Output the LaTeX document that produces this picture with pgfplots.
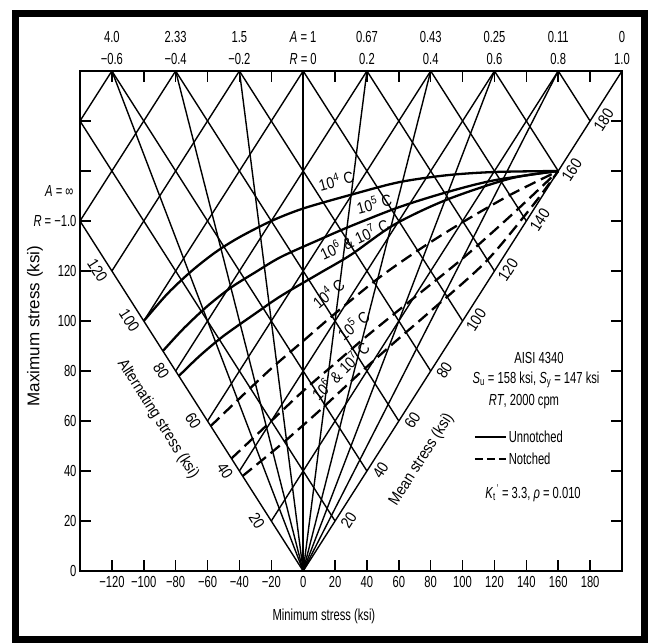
\documentclass[border=0pt]{standalone}
\usepackage{pgfplots}
\pgfplotsset{compat=1.18}
\usepackage{fontspec}
\setmainfont{Liberation Sans}[FakeStretch=0.7]
\newfontfamily\diagf{Liberation Sans}[FakeStretch=0.87]
\newfontfamily\vertf{Liberation Sans}
\newcommand\f{\fontsize{16}{17}\selectfont}
\newcommand\fd{\diagf\fontsize{16}{17}\selectfont}
\pgfplotsset{gl/.style={black, line width=1.4pt, forget plot},
  cv/.style={black, line width=2.3pt, smooth, forget plot},
  cvd/.style={black, line width=2.3pt, smooth, forget plot, dash pattern=on 12pt off 6pt}}
\begin{document}
\begin{tikzpicture}[x=1pt,y=1pt]
\useasboundingbox (0,0) rectangle (648,643);
\fill[white] (0,0) rectangle (648,643);
\draw[line width=7pt] (15.5,3.5) rectangle (644.5,629.5);
\begin{axis}[
 at={(80pt,72pt)}, anchor=south west, scale only axis,
 width=542pt, height=500pt,
 xmin=-140, xmax=200, ymin=0, ymax=200,
 clip=false,
 axis line style={line width=1.5pt},
 every tick/.style={black, line width=1.5pt},
 major tick length=11pt,
 tick align=inside,
 xtick={-120,-100,...,180},
 xticklabels={−120,−100,−80,−60,−40,−20,0,20,40,60,80,100,120,140,160,180},
 ytick={0,20,...,180},
 yticklabels={0,20,40,60,80,100,120,{\textit{R} = −1.0},{},{}},
 tick label style={font=\f},
 xticklabel style={yshift=-2pt},
 xlabel={Minimum stress (ksi)},
 xlabel style={font=\f, at={(axis description cs:0.45,-0.09)}, anchor=center},
 ylabel={Maximum stress (ksi)},
 ylabel style={font=\vertf\fontsize{17}{18}\selectfont, at={(axis description cs:-0.083,0.49)}, anchor=center},
 legend style={at={(axis cs:107,57)}, anchor=north west, draw=none, fill=none,
   font=\f, inner sep=0pt, row sep=5pt, cells={anchor=west}},
 legend image code/.code={\draw[#1, line width=1.8pt] (0pt,0pt) -- (31pt,0pt);},
]
% rays of constant R
\addplot[gl] coordinates {(0,0) (-140,140)};
\addplot[gl] coordinates {(0,0) (-120,200)};
\addplot[gl] coordinates {(0,0) (-80,200)};
\addplot[gl] coordinates {(0,0) (-40,200)};
\addplot[gl] coordinates {(0,0) (0,200)};
\addplot[gl] coordinates {(0,0) (40,200)};
\addplot[gl] coordinates {(0,0) (80,200)};
\addplot[gl] coordinates {(0,0) (120,200)};
\addplot[gl] coordinates {(0,0) (160,200)};
\addplot[gl] coordinates {(0,0) (200,200)};
% constant mean stress
\addplot[gl] coordinates {(20,20) (-140,180)};
\addplot[gl] coordinates {(40,40) (-120,200)};
\addplot[gl] coordinates {(60,60) (-80,200)};
\addplot[gl] coordinates {(80,80) (-40,200)};
\addplot[gl] coordinates {(100,100) (0,200)};
\addplot[gl] coordinates {(120,120) (40,200)};
\addplot[gl] coordinates {(140,140) (80,200)};
\addplot[gl] coordinates {(160,160) (120,200)};
\addplot[gl] coordinates {(180,180) (160,200)};
% constant alternating stress
\addplot[gl] coordinates {(-20,20) (160,200)};
\addplot[gl] coordinates {(-40,40) (120,200)};
\addplot[gl] coordinates {(-60,60) (80,200)};
\addplot[gl] coordinates {(-80,80) (40,200)};
\addplot[gl] coordinates {(-100,100) (0,200)};
\addplot[gl] coordinates {(-120,120) (-40,200)};
\addplot[gl] coordinates {(-140,140) (-80,200)};
\addplot[gl] coordinates {(-140,180) (-120,200)};
% unnotched
\addplot[cv] coordinates {(-100,100) (-85,111) (-70,120) (-55,127.5) (-40,133.5) (-20,140) (0,145) (30,150.5) (60,155.5) (90,158.3) (120,159.6) (160,160)};
\addplot[cv] coordinates {(-88,88) (-75,97) (-60,106) (-45,113.5) (-30,119.5) (-14,125.6) (10,132.5) (30,138) (60,145.5) (90,151.5) (120,156.3) (160,160)};
\addplot[cv] coordinates {(-78,78) (-65,86) (-50,94) (-30,103) (-14,110) (10,119) (30,126.5) (57,138.5) (90,148.5) (130,157) (160,160)};
% notched
\addplot[cvd] coordinates {(-58,58) (-40,69) (-20,81) (0,92) (20,103) (48,117.5) (75,129.5) (100,139.5) (130,150.5) (160,160)};
\addplot[cvd] coordinates {(-45,45) (-25,57) (0,72) (20,83) (40,94) (69,109) (100,125) (130,142) (160,160)};
\addplot[cvd] coordinates {(-38,38) (-15,50) (10,64) (37,80) (60,93) (80,104) (115,124) (145,147) (160,160)};
\addlegendimage{black, solid}
\addlegendentry{Unnotched}
\addlegendimage{black, dash pattern=on 8pt off 4pt}
\addlegendentry{Notched}
% top labels
\foreach \xx/\aa/\rr in {-120/4.0/−0.6, -80/2.33/−0.4, -40/1.5/−0.2, 0/{\textit{A} = 1}/{\textit{R} = 0}, 40/0.67/0.2, 80/0.43/0.4, 120/0.25/0.6, 160/0.11/0.8, 200/0/1.0}{
  \edef\tmp{\noexpand\node[font=\noexpand\f] at (axis cs:\xx,200) [yshift=12pt] {\unexpanded\expandafter{\rr}};
    \noexpand\node[font=\noexpand\f] at (axis cs:\xx,200) [yshift=34pt] {\unexpanded\expandafter{\aa}};}
  \tmp
}
% mean stress labels
\foreach \m in {20,40,...,180}{
  \edef\tmp{\noexpand\node[font=\noexpand\fd, rotate=57.5] at (axis cs:\m,\m) [xshift=8pt, yshift=-11pt] {\m};}
  \tmp
}
% alternating stress labels
\foreach \m in {20,40,...,120}{
  \edef\tmp{\noexpand\node[font=\noexpand\fd, rotate=-57.5] at (axis cs:-\m,\m) [xshift=-8pt, yshift=-12pt] {\m};}
  \tmp
}
\end{axis}
% axis labels along the diagonals
\node[font=\fd, rotate=-57.5, anchor=west] at (119,285) {Alternating stress (ksi)};
\node[font=\fd, rotate=57.5, anchor=east] at (452,231) {Mean stress (ksi)};
\node[font=\f, anchor=east] at (77,452) {\textit{A} = ∞};
% curve labels
\node[font=\fd, rotate=15] at (336,463) {10\textsuperscript{4} C};
\node[font=\fd, rotate=15] at (374,440) {10\textsuperscript{5} C};
\node[font=\fd, rotate=25] at (354,404) {10\textsuperscript{6} \& 10\textsuperscript{7} C};
\node[font=\fd, rotate=40] at (328,350) {10\textsuperscript{4} C};
\node[font=\fd, rotate=40] at (353,318) {10\textsuperscript{5} C};
\node[font=\fd, rotate=45] at (340,272) {10\textsuperscript{6} \& 10\textsuperscript{7} C};
% annotation
\node[font=\f] at (539,285) {AISI 4340};
\node[font=\f] at (536,263) {\textit{S}\textsubscript{u} = 158 ksi, \textit{S}\textsubscript{y} = 147 ksi};
\node[font=\f] at (524,241) {\textit{RT}, 2000 cpm};
\node[font=\f] at (533,150) {\textit{K}\textsubscript{t}\kern-1pt\textsuperscript{\,'} = 3.3, \textit{ρ} = 0.010};
\end{tikzpicture}
\end{document}
